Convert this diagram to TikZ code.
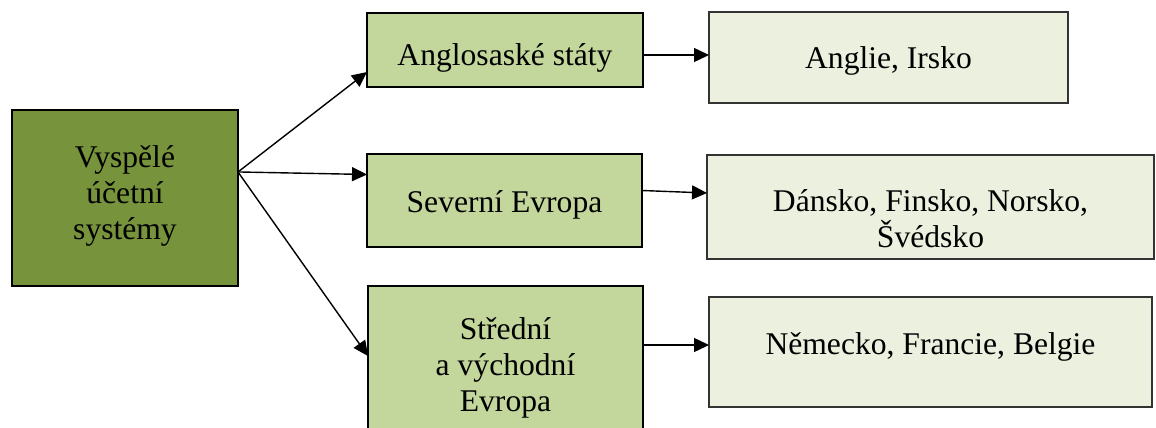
\documentclass[tikz,border=0pt]{standalone}
\usepackage{fontspec}
\setmainfont{Liberation Serif}
\usetikzlibrary{arrows.meta,calc}
\definecolor{olivedark}{HTML}{77933C}
\definecolor{olivemid}{HTML}{C3D69B}
\definecolor{olivelight}{HTML}{EBF1DE}
\definecolor{edgegrey}{HTML}{333333}
\begin{document}
\begin{tikzpicture}[x=1pt,y=-1pt,
  box/.style={rectangle,inner sep=0pt,outer sep=0pt},
  rootbox/.style={box,draw=black,line width=2pt,fill=olivedark},
  regionbox/.style={box,draw=black,line width=1.8pt,fill=olivemid},
  countrybox/.style={box,draw=edgegrey,line width=1.5pt,fill=olivelight},
  caption/.style={inner sep=0pt,align=center,text=black,
    font=\fontsize{31.6}{36.3}\selectfont},
  link/.style={draw=black,line width=1.4pt,-{Triangle[length=15pt,width=14pt]}}]
\useasboundingbox (0,0) rectangle (1156,428);
\begin{scope}
\clip (0,0) rectangle (1156,428);
% root of the tree
\node[rootbox,minimum width=226pt,minimum height=176pt] (main) at (125,198) {};
\node[caption] (mainT) at ([yshift=2pt]main.center) {Vyspělé\\účetní\\systémy};
% regions
\node[regionbox,minimum width=276pt,minimum height=74pt] (ang) at (505,50) {};
\node[caption] (angT) at ([yshift=-8pt]ang.center) {Anglosaské státy};
\node[regionbox,minimum width=275pt,minimum height=93pt] (sev) at (504.5,200.5) {};
\node[caption] (sevT) at ([yshift=-4pt]sev.center) {Severní Evropa};
\node[regionbox,minimum width=275pt,minimum height=164pt] (str) at (505.5,368) {};
\node[caption] (strT) at (str.center) {Střední\\a východní\\Evropa};
% countries
\node[countrybox,minimum width=359pt,minimum height=91pt] (angl) at (888.5,57.5) {};
\node[caption] (anglT) at ([yshift=-3pt]angl.center) {Anglie, Irsko};
\node[countrybox,minimum width=447pt,minimum height=104pt] (dan) at (930.5,207) {};
\node[caption] (danT) at ([yshift=-12pt]dan.center) {Dánsko, Finsko, Norsko,\\Švédsko};
\node[countrybox,minimum width=443pt,minimum height=110pt] (nem) at (930.5,352) {};
\node[caption] (nemT) at ([yshift=5pt]nem.center) {Německo, Francie, Belgie};
% fan-out point on the root box
\coordinate (hub) at ($(main.north east)!0.352!(main.south east)$);
% connectors
\draw[link] (hub) -- ([yshift=-22pt]ang.west);
\draw[link] (hub) -- ([yshift=26pt]sev.west);
\draw[link] (hub) -- ([yshift=12pt]str.west);
\draw[link] ([yshift=-5pt]ang.east) -- ([yshift=2.5pt]angl.west);
\draw[link] ([yshift=10pt]sev.east) -- ([yshift=14pt]dan.west);
\draw[link] ([yshift=23pt]str.east) -- ([yshift=7pt]nem.west);
\end{scope}
\end{tikzpicture}
\end{document}
